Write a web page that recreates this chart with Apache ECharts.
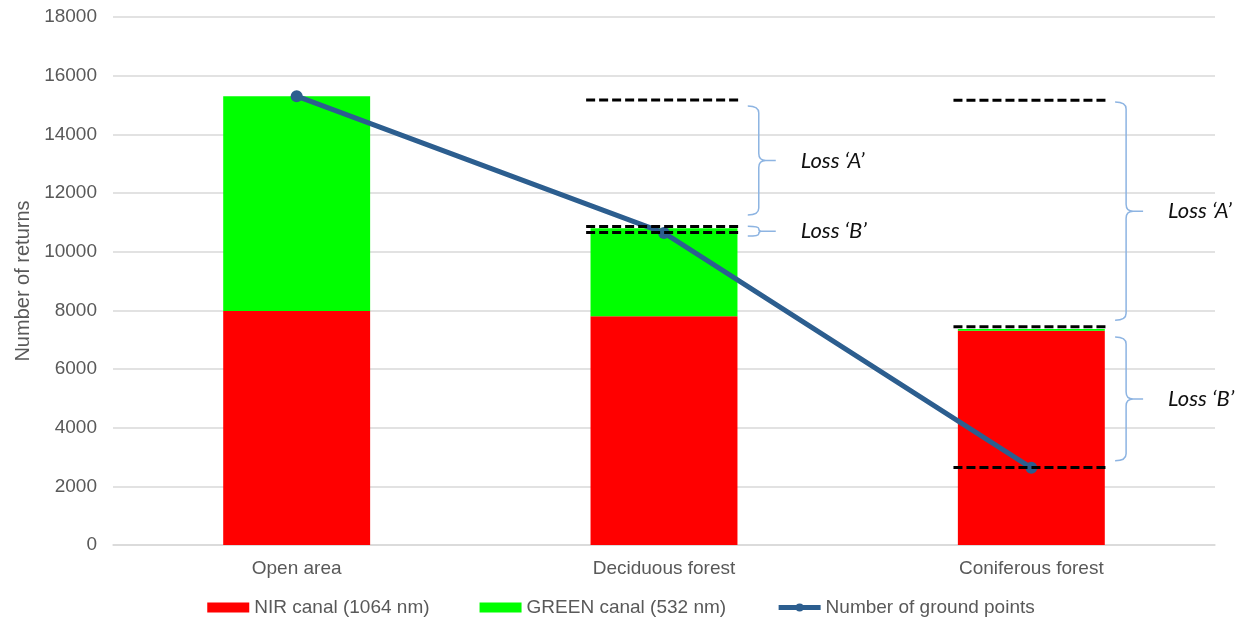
<!DOCTYPE html>
<html>
<head>
<meta charset="utf-8">
<script src="https://cdn.jsdelivr.net/npm/echarts@6/dist/echarts.min.js"></script>
<style>
  html, body { margin: 0; padding: 0; background: #fff; }
  #chart { width: 1242px; height: 625px; }
</style>
</head>
<body>
<div id="chart"></div>
<script>
// categories and series
const categories = ['Open area', 'Deciduous forest', 'Coniferous forest'];
const nirValues = [7980, 7800, 7300];
const greenValues = [7320, 3000, 60];
const groundPoints = [15300, 10640, 2630];

// annotation: dashed reference levels (category index, value)
const dashCats = [1, 1, 1, 2, 2, 2];
const dashValues = [15170, 10860, 10650, 15160, 7440, 2640];

// annotation: braces (category index, low, high, label)
const braceCats = [1, 1, 2, 2];
const braceLow = [11250, 10530, 7660, 2870];
const braceHigh = [14970, 10870, 15100, 7090];
const braceLabels = ['Loss \u2018A\u2019', 'Loss \u2018B\u2019', 'Loss \u2018A\u2019', 'Loss \u2018B\u2019'];

const yTicks = { min: 0, max: 18000, interval: 2000 };

const chart = echarts.init(document.getElementById('chart'));
const grey = '#595959';
const font = 'Liberation Sans, Arial, sans-serif';
const lineBlue = '#2C5E8F';

// dashed horizontal levels
function renderDash(params, api) {
    const p = api.coord([api.value(0), api.value(1)]);
    const band = api.size([1, 0])[0];
    const half = band * 0.212;
    return {
        type: 'line',
        shape: { x1: p[0] - half, y1: p[1], x2: p[0] + half, y2: p[1] },
        style: { stroke: '#000', lineWidth: 3, lineDash: [9, 4] }
    };
}

// right curly braces with label
function renderBrace(params, api) {
    const top = api.coord([api.value(0), api.value(2)]);
    const bot = api.coord([api.value(0), api.value(1)]);
    const band = api.size([1, 0])[0];
    const x0 = top[0] + band * 0.258;
    const y1 = top[1], y2 = bot[1];
    const ym = (y1 + y2) / 2;
    const r = Math.min(7, (y2 - y1) / 4);
    const path =
        `M ${x0 - 11} ${y1} Q ${x0} ${y1} ${x0} ${y1 + r} L ${x0} ${ym - r} ` +
        `Q ${x0} ${ym} ${x0 + r} ${ym} L ${x0 + 17} ${ym} ` +
        `M ${x0 + r} ${ym} Q ${x0} ${ym} ${x0} ${ym + r} L ${x0} ${y2 - r} ` +
        `Q ${x0} ${y2} ${x0 - 11} ${y2}`;
    return {
        type: 'group',
        children: [
            {
                type: 'path',
                shape: { pathData: path },
                style: { stroke: '#8DB4E2', lineWidth: 1.5, fill: null }
            },
            {
                type: 'text',
                style: {
                    text: braceLabels[params.dataIndex],
                    x: x0 + 42,
                    y: ym,
                    fill: '#111',
                    font: 'italic 22px Lato, "Open Sans", sans-serif',
                    verticalAlign: 'middle'
                }
            }
        ]
    };
}

const option = {
    animation: false,
    grid: { left: 113, right: 27, top: 17, bottom: 80 },
    legend: {
        bottom: 3,
        left: 'center',
        itemGap: 50,
        itemWidth: 42,
        itemHeight: 10,
        data: [
            { name: 'NIR canal (1064 nm)', icon: 'rect' },
            { name: 'GREEN canal (532 nm)', icon: 'rect' },
            { name: 'Number of ground points', lineStyle: { width: 5, color: lineBlue } }
        ],
        textStyle: { color: grey, fontSize: 19, fontFamily: font }
    },
    xAxis: {
        type: 'category',
        data: categories,
        axisTick: { show: false },
        axisLine: { lineStyle: { color: '#d9d9d9', width: 1.5 } },
        axisLabel: { color: grey, fontSize: 19, margin: 14, fontFamily: font }
    },
    yAxis: {
        type: 'value',
        min: yTicks.min,
        max: yTicks.max,
        interval: yTicks.interval,
        name: 'Number of returns',
        nameLocation: 'middle',
        nameGap: 80,
        nameTextStyle: { color: grey, fontSize: 20, fontFamily: font },
        axisLabel: { color: grey, fontSize: 19, margin: 16, fontFamily: font, formatter: v => String(v) },
        splitLine: { lineStyle: { color: '#d9d9d9', width: 1.5 } }
    },
    series: [
        {
            name: 'NIR canal (1064 nm)',
            type: 'bar',
            stack: 'returns',
            barWidth: '40%',
            data: nirValues,
            itemStyle: { color: '#FF0000' }
        },
        {
            name: 'GREEN canal (532 nm)',
            type: 'bar',
            stack: 'returns',
            data: greenValues,
            itemStyle: { color: '#00FF00' }
        },
        {
            name: 'Number of ground points',
            type: 'line',
            data: groundPoints,
            symbol: 'circle',
            symbolSize: 12,
            lineStyle: { color: lineBlue, width: 5 },
            itemStyle: { color: lineBlue }
        },
        {
            name: 'levels',
            type: 'custom',
            renderItem: renderDash,
            encode: { x: 0, y: 1 },
            data: dashCats.map((c, i) => [c, dashValues[i]]),
            z: 5
        },
        {
            name: 'braces',
            type: 'custom',
            renderItem: renderBrace,
            encode: { x: 0, y: [1, 2] },
            data: braceCats.map((c, i) => [c, braceLow[i], braceHigh[i]]),
            z: 5
        }
    ]
};

chart.setOption(option);
</script>
</body>
</html>
